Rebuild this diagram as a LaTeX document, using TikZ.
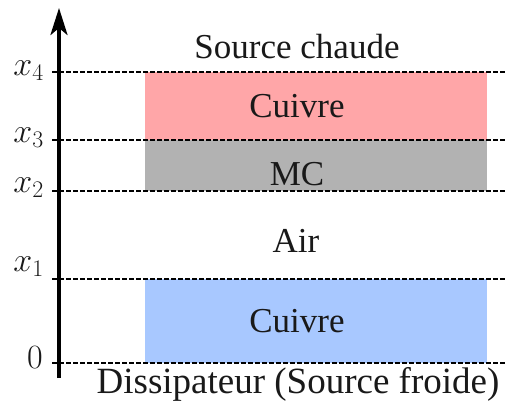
\RequirePackage{fix-cm}
\documentclass[tikz,border=0pt]{standalone}
\usepackage{fontspec}
\setmainfont{Liberation Serif}
\usepackage{tikz}
\usetikzlibrary{arrows.meta}
\usetikzlibrary{positioning}
\definecolor{cuivrechaud}{RGB}{255,166,168}
\definecolor{cuivrefroid}{RGB}{168,200,255}
\definecolor{mcgris}{RGB}{178,178,178}
\tikzset{
  niveau/.style = {line width=1.8pt, dash pattern=on 4.5pt off 2.5pt},
  couche/.style = {anchor=base, inner sep=0pt,
    font=\fontsize{35}{40}\selectfont, text=black!90},
  cote/.style = {anchor=base east, inner sep=0pt,
    font=\fontsize{34}{38}\selectfont, text=black!90}
}

\begin{document}
\begin{tikzpicture}[x=1pt,y=-1pt]
\useasboundingbox (0,0) rectangle (518,415);

% couches
\fill[cuivrechaud] (145,72) rectangle (487,140);
\fill[mcgris] (145,140) rectangle (487,191);
\fill[cuivrefroid] (145,279) rectangle (487,363);

% niveaux
\foreach \y/\n in {72/4,140/3,191/2,279/1,363/0}{
  \coordinate (g\n) at (52,\y);
  \coordinate (d\n) at (505,\y);
  \draw[niveau] (g\n) -- (d\n);
}

% axe
\coordinate (bas) at (59,378);
\coordinate (haut) at (59,8);
\draw[line width=3.8pt,-{Stealth[length=27pt,width=17pt,inset=7pt]}] (bas) -- (haut);

\node[cote] (c4) at (44,75) {$x_4$};
\node[cote] (c3) at (44,142) {$x_3$};
\node[cote] (c2) at (44,192) {$x_2$};
\node[cote] (c1) at (44,271) {$x_1$};
\node[cote] (c0) at (43,368) {$0$};

\node[couche] (chaude) at (297,58) {Source chaude};
\node[couche] (cuivre2) at (297,117) {Cuivre};
\node[couche] (mc) at (297,185) {MC};
\node[couche] (air) at (296,252) {Air};
\node[couche] (cuivre1) at (297,332) {Cuivre};
\node[couche, font=\fontsize{37}{42}\selectfont] (froide) at (298,393) {Dissipateur (Source froide)};
\end{tikzpicture}
\end{document}
